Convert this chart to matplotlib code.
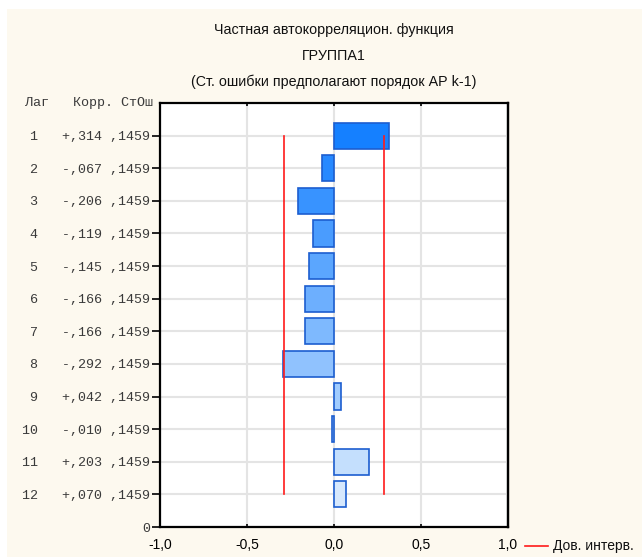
import matplotlib
matplotlib.use("Agg")
import matplotlib.pyplot as plt
from matplotlib.patches import Rectangle
from matplotlib.lines import Line2D
import numpy as np

# data
lags = [1, 2, 3, 4, 5, 6, 7, 8, 9, 10, 11, 12]
corr = [0.314, -0.067, -0.206, -0.119, -0.145, -0.166, -0.166, -0.292,
        0.042, -0.010, 0.203, 0.070]
std_err = [0.1459] * 12
x_ticks = [-1.0, -0.5, 0.0, 0.5, 1.0]
x_tick_labels = ["-1,0", "-0,5", "0,0", "0,5", "1,0"]

title_lines = ["Частная автокорреляцион. функция", "ГРУППА1",
               "(Ст. ошибки предполагают порядок АР k-1)"]

bg = "#fdf9ef"
sans = ["Liberation Sans", "DejaVu Sans"]
mono = ["Liberation Mono", "DejaVu Sans Mono"]


def fmt_corr(c):
    s = f"{abs(c):.3f}".lstrip("0").replace(".", ",")
    return ("+" if c >= 0 else "-") + s


def fmt_se(s):
    return f"{s:.4f}".lstrip("0").replace(".", ",")


fig = plt.figure(figsize=(6.42, 5.57), dpi=100, facecolor="white")
fig.patches.append(Rectangle((7 / 642, 0), 1, 548 / 557, transform=fig.transFigure,
                             facecolor=bg, edgecolor="none", zorder=-10))

ax = fig.add_axes([160 / 642, 30 / 557, 348 / 642, 424 / 557])
ax.set_facecolor("white")

# bar colours go from strong blue to pale blue down the lags
c0 = np.array([0x15, 0x80, 0xff]) / 255
c1 = np.array([0xd6, 0xe8, 0xfd]) / 255
colors = [tuple(c0 + (c1 - c0) * t) for t in np.linspace(0, 1, len(lags))]

ax.barh(lags, corr, height=0.8, color=colors, edgecolor="#1c5ed0",
        linewidth=1.2, zorder=3)

conf = [1.96 * s for s in std_err]
ax.plot([-c for c in conf], lags, color="#ff1a1a", linewidth=1.2, zorder=4)
ax.plot(conf, lags, color="#ff1a1a", linewidth=1.2, zorder=4)

# lag axis runs top-down; the bottom edge (after lag 12) carries the "0" label
n = len(lags) + 1
ax.set_xlim(-1, 1)
ax.set_ylim(n, 0)
ax.set_xticks(x_ticks)
ax.set_xticklabels(x_tick_labels, fontfamily=sans, fontsize=10)
ax.set_yticks(lags + [n])
ylabels = [f"{l:>2}   {fmt_corr(c)} {fmt_se(s)}"
           for l, c, s in zip(lags, corr, std_err)] + ["0"]
ax.set_yticklabels(ylabels, fontfamily=mono, fontsize=9.6, color="#3a3a3a")
ax.text(-0.02, 0, "Лаг   Корр. СтОш", transform=ax.get_yaxis_transform(),
        ha="right", va="center", fontfamily=mono, fontsize=9.6, color="#3a3a3a")

ax.tick_params(axis="y", direction="out", length=6, width=1.2, pad=1)
ax.tick_params(axis="x", direction="in", length=2.5, width=1.2, pad=8,
               top=True)
right = ax.secondary_yaxis("right")
right.set_yticks(lags + [n])
right.tick_params(direction="in", length=2.5, width=1.2, labelright=False)

ax.grid(True, color="#e4e4e4", linewidth=1.5, zorder=0)
ax.set_axisbelow(True)
for sp in ax.spines.values():
    sp.set_linewidth(1.6)
    sp.set_zorder(5)
right.spines["right"].set_linewidth(1.6)

for i, line in enumerate(title_lines):
    fig.text(334 / 642, 1 - (30 + 26 * i) / 557, line, ha="center", va="center",
             fontfamily=sans, fontsize=10.3, color="#111111")

fig.lines.append(Line2D([525 / 642, 548 / 642], [1 - 546 / 557, 1 - 546 / 557],
                        transform=fig.transFigure, color="#ff1a1a", linewidth=1.2))
fig.text(553 / 642, 1 - 546 / 557, "Дов. интерв.", ha="left", va="center",
         fontfamily=sans, fontsize=10, color="#111111")

fig.savefig("out.png", dpi=100, facecolor=fig.get_facecolor())
